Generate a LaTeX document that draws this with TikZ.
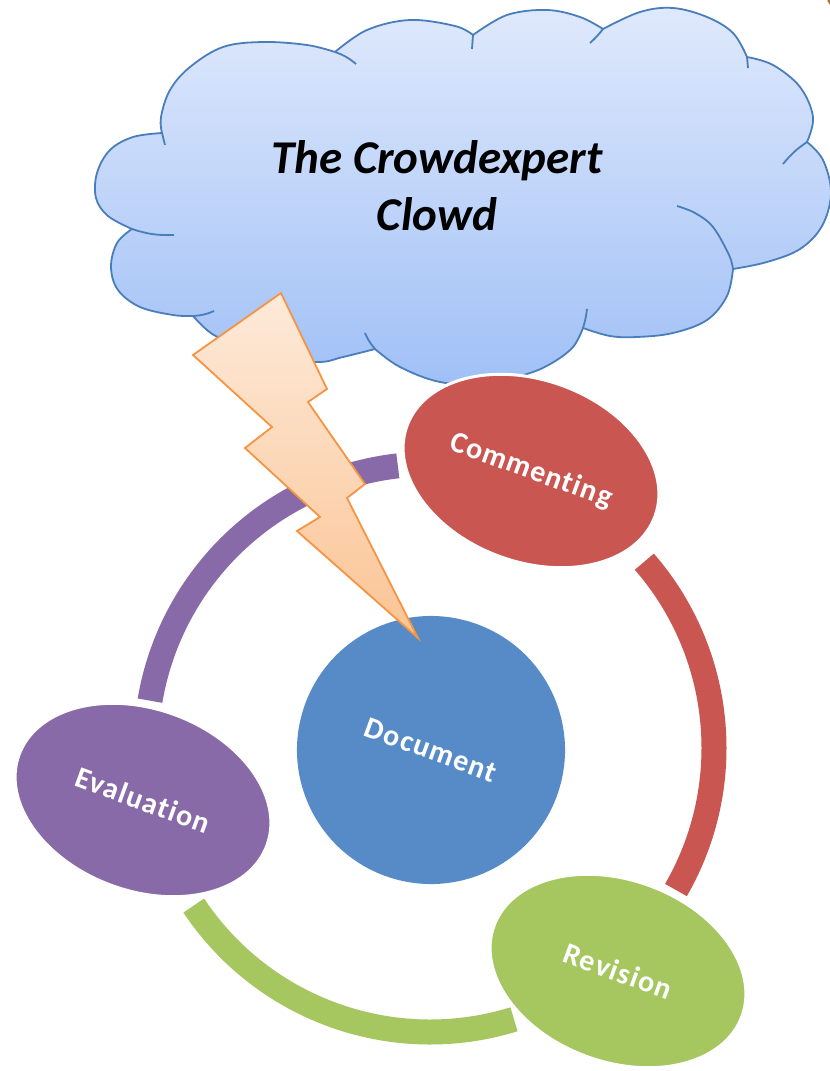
\documentclass[tikz,border=0pt]{standalone}
\usepackage{fontspec}
\setmainfont{Carlito}
\usetikzlibrary{shapes.geometric,calc}
\definecolor{cloudtop}{RGB}{223,233,252}
\definecolor{cloudbot}{RGB}{160,192,246}
\definecolor{cloudline}{RGB}{74,126,187}
\definecolor{bolttop}{RGB}{253,234,218}
\definecolor{boltbot}{RGB}{251,196,148}
\definecolor{boltline}{RGB}{245,148,66}
\definecolor{cred}{RGB}{202,86,82}
\definecolor{cpurple}{RGB}{137,106,168}
\definecolor{cgreen}{RGB}{166,198,96}
\definecolor{cblue}{RGB}{86,139,200}
\definecolor{cbrown}{RGB}{176,120,50}
\newcommand{\stagefont}{\fontsize{30}{36}\selectfont\bfseries\addfontfeatures{LetterSpace=4,Ligatures=NoCommon}}
\begin{document}
\begin{tikzpicture}[x=1pt,y=-1pt,
  cloudshape/.style={draw=cloudline, line width=1.8pt, top color=cloudtop, bottom color=cloudbot},
  stub/.style={draw=cloudline, line width=1.8pt},
  stage/.style={ellipse, minimum width=264pt, minimum height=182pt, inner sep=0pt,
    rotate=-20, draw=white, line width=3pt, text=white, font=\stagefont},
  ringarc/.style={line width=25pt},
  boltshape/.style={draw=boltline, line width=1.8pt, line join=miter, top color=bolttop, bottom color=boltbot}]
\useasboundingbox (0,0) rectangle (830,1071);
\clip (0,0) rectangle (830,1071);
\fill[white] (0,0) rectangle (830,1071);
\fill[cbrown] (836,-2) circle (9);
% cloud
\path[cloudshape] (335,52)
 -- plot[smooth,tension=0.6] coordinates {(335,52) (307,45) (263,42) (223,47) (190,67) (170,90) (161,117) (162,133)}
 -- plot[smooth,tension=0.6] coordinates {(162,133) (133,137) (110,150) (97,173) (96,198) (108,216) (132,229)}
 -- plot[smooth,tension=0.6] coordinates {(132,229) (117,243) (111,267) (118,290) (140,307) (173,315) (193,316)}
 -- plot[smooth,tension=0.6] coordinates {(193,316) (207,330) (222,339) (265,356) (317,362) (343,357) (375,349)}
 -- plot[smooth,tension=0.6] coordinates {(375,349) (400,367) (440,382) (485,384) (527,374) (552,363) (573,347) (583,328)}
 -- plot[smooth,tension=0.6] coordinates {(583,328) (610,336) (637,337) (673,333) (707,320) (727,296) (733,269)}
 -- plot[smooth,tension=0.6] coordinates {(733,269) (767,262) (800,249) (822,226) (831,193) (823,160) (807,142)}
 -- plot[smooth,tension=0.6] coordinates {(807,142) (813,117) (800,87) (773,65) (747,57)}
 -- plot[smooth,tension=0.6] coordinates {(747,57) (733,33) (707,17) (673,8) (640,12) (603,29)}
 -- plot[smooth,tension=0.6] coordinates {(603,29) (580,17) (547,10) (507,15) (473,35)}
 -- plot[smooth,tension=0.6] coordinates {(473,35) (455,26) (410,20) (367,30) (335,52)}
 -- cycle;
\draw[stub] (335,52) to[bend left=10] (356,64);
\draw[stub] (162,133) to (165,145);
\draw[stub] (132,229) to[bend right=10] (174,235);
\draw[stub] (193,316) to[bend right=10] (214,311);
\draw[stub] (375,349) to[bend left=8] (365,333);
\draw[stub] (583,328) to[bend right=5] (587,309);
\draw[stub] plot[smooth,tension=0.6] coordinates {(733,269) (729,255) (713,227) (695,213) (677,206)};
\draw[stub] (807,142) to[bend right=8] (783,164);
\draw[stub] (747,57) to (748,68);
\draw[stub] (603,29) to[bend left=5] (590,43);
\draw[stub] (473,35) to (472,49);
\node[font=\fontsize{47}{57}\selectfont\bfseries\itshape, align=center, inner sep=0pt] (cloudtext) at (437,186) {The Crowdexpert\\Clowd};
% ring
\coordinate (ring) at (430,748);
\draw[ringarc, cpurple] ($(ring)+(189.6:284)$) arc[start angle=189.6, end angle=263.5, radius=284];
\draw[ringarc, cred] ($(ring)+(-41:284)$) arc[start angle=-41, end angle=30, radius=284];
\draw[ringarc, cgreen] ($(ring)+(72.8:284)$) arc[start angle=72.8, end angle=146.3, radius=284];
% stages
\node[stage, fill=cred] (comm) at (531,471) {Commenting};
\node[stage, fill=cpurple] (eval) at (143,800) {Evaluation};
\node[stage, fill=cgreen] (rev) at (618,971) {Revision};
\node[circle, minimum size=268pt, inner sep=0pt, fill=cblue, rotate=-20, text=white,
  font=\stagefont] (doc) at (431,750) {Document};
% lightning bolt
\path[boltshape] (281,293) -- (327,389) -- (308,402) -- (365,484) -- (347,498) -- (418,638)
  -- (297,531) -- (320,517) -- (245,448) -- (272,427) -- (193,355) -- cycle;
\end{tikzpicture}
\end{document}
